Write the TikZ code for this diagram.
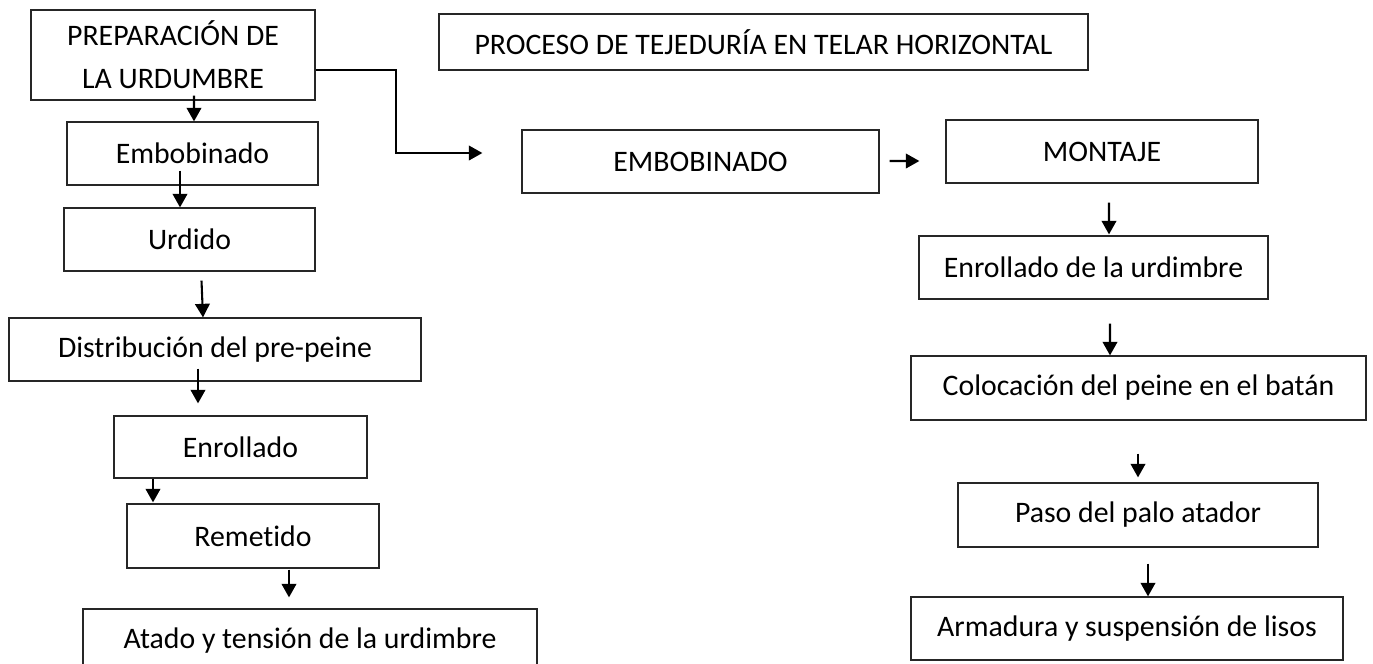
\documentclass[tikz,border=0pt]{standalone}
\usepackage{fontspec}
\setmainfont{Carlito}[Ligatures=NoCommon]
\usetikzlibrary{arrows.meta}

\begin{document}
\begin{tikzpicture}[x=0.48pt, y=-0.48pt,
        caja/.style 2 args={draw=black!85, line width=0.6pt, minimum width=#1*0.48pt,
            minimum height=#2*0.48pt, inner sep=0pt, align=center,
            font=\fontsize{14.3}{20.5}\selectfont},
        flecha/.style={line width=1pt, -{Triangle[width=7pt, length=6.5pt]}}]
        \useasboundingbox (0,0) rectangle (1373,663);
        % columna izquierda
        \node[caja={284}{90}] (prep) at (173,55) {PREPARACIÓN DE\\LA URDUMBRE};
        \node[caja={251}{63}] (embobinado) at (192.5,153.5) {Embobinado};
        \node[caja={251}{63}] (urdido) at (189.5,239.5) {Urdido};
        \node[caja={412}{63}] (distribucion) at (215,349.5) {Distribución del pre-peine};
        \node[caja={253}{62}] (enrollado) at (240.5,447) {Enrollado};
        \node[caja={252}{64}] (remetido) at (253,536) {Remetido};
        \node[caja={454}{63}] (atado) at (310,640.5) {Atado y tensión de la urdimbre};
        % titulo y fila superior
        \node[caja={649}{56}] (titulo) at (763.5,42) {PROCESO DE TEJEDURÍA EN TELAR HORIZONTAL};
        \node[caja={357}{63}] (embob) at (700.5,161.5) {EMBOBINADO};
        \node[caja={312}{63}] (montaje) at (1102,151.5) {MONTAJE};
        % columna derecha
        \node[caja={349}{63}] (enrurd) at (1093.5,267.5) {Enrollado de la urdimbre};
        \node[caja={455}{64}] (colocacion) at (1138.5,388) {Colocación del peine en el batán};
        \node[caja={360}{64}] (paso) at (1138,515) {Paso del palo atador};
        \node[caja={432}{63}] (armadura) at (1127,628.5) {Armadura y suspensión de lisos};

        \draw[flecha] ([shift={(21,-5)}]prep.south) -- ([shift={(1.5,0)}]embobinado.north);
        \draw[flecha] ([shift={(-12.5,-15)}]embobinado.south) -- ([shift={(-9.5,0)}]urdido.north);
        \draw[flecha] ([shift={(12,9)}]urdido.south) -- ([shift={(-12,0)}]distribucion.north);
        \draw[flecha] ([shift={(-17,-13)}]distribucion.south) -- ([shift={(-42.5,-12)}]enrollado.north);
        \draw[flecha] ([shift={(-87.5,0)}]enrollado.south) -- ([shift={(-100,-1)}]remetido.north);
        \draw[flecha] ([shift={(36,1)}]remetido.south) -- ([shift={(-21,-11)}]atado.north);

        \draw[flecha] ([shift={(0,15)}]prep.east) -| ([shift={(-125,-8.5)}]embob.west)
            -- ([shift={(-39,-8.5)}]embob.west);
        \draw[flecha] ([shift={(10,-0.5)}]embob.east) -- ([shift={(-26,9.5)}]montaje.west);

        \draw[flecha] ([shift={(7,19)}]montaje.south) -- ([shift={(15.5,-1)}]enrurd.north);
        \draw[flecha] ([shift={(16.5,24)}]enrurd.south) -- ([shift={(-28.5,0)}]colocacion.north);
        \draw[flecha] ([shift={(-0.5,33)}]colocacion.south) -- ([shift={(0,-5)}]paso.north);
        \draw[flecha] ([shift={(10,16)}]paso.south) -- ([shift={(21,0)}]armadura.north);
\end{tikzpicture}
\end{document}
